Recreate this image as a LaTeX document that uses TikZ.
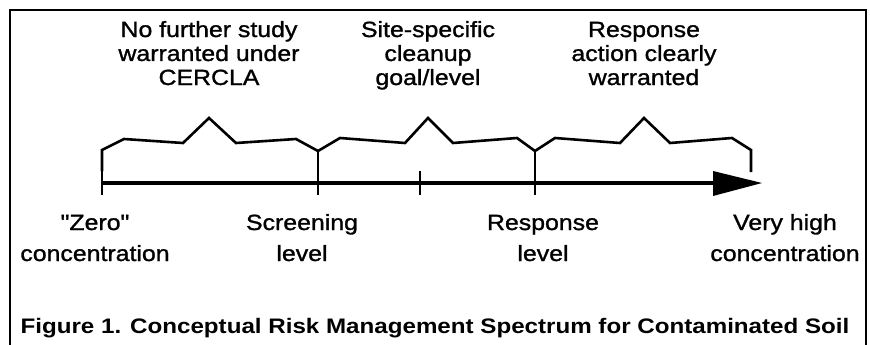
\documentclass[tikz,border=0pt]{standalone}
\usepackage{fontspec}
\setmainfont{Liberation Sans}[FakeStretch=1.15]
\newfontfamily\labfont{Liberation Sans}[FakeStretch=1.13,FakeBold=1.2]
\begin{document}
\begin{tikzpicture}[x=1pt,y=-1pt,
  lab/.style={font=\labfont\fontsize{22}{24}\selectfont, align=center, anchor=base, inner sep=0},
  blab/.style={font=\labfont\fontsize{22}{31}\selectfont, align=center, anchor=base, inner sep=0},
  captext/.style={font=\bfseries\fontsize{21}{24}\selectfont, anchor=base, inner sep=0},
  brace/.style={line width=2.6pt, line join=miter},
  tickline/.style={line width=2.8pt}]
\useasboundingbox (0,0) rectangle (870,345);
\draw[line width=2.6pt] (10,350) -- (10,10) -- (866,10) -- (866,350);
% axis
\coordinate (a0) at (102,183);
\coordinate (a1) at (318,183);
\coordinate (am) at (420,183);
\coordinate (a2) at (535,183);
\coordinate (aend) at (762,183);
\draw[line width=3.8pt] (a0) -- (714,183);
\fill (713,171) -- (aend) -- (713,196) -- cycle;
\draw[tickline] (102,171) -- (102,195);
\draw[tickline] (318,150) -- (318,195);
\draw[tickline] (420,171) -- (420,195);
\draw[tickline] (535,150) -- (535,195);
% braces
\draw[brace] (102,171) -- (102,150) -- (124,139) -- (183,143) -- (209,118) -- (236,143) -- (296,139) -- (318,151)
  -- (340,138) -- (405,143) -- (428,118) -- (453,143) -- (517,138) -- (535,151)
  -- (555,138) -- (620,143) -- (644,118) -- (670,143) -- (732,138) -- (751,150) -- (751,172);
% labels
\node[lab] (t1) at (209,85) {No further study\\warranted under\\CERCLA};
\node[lab] (t2) at (428,85) {Site-specific\\cleanup\\goal/level};
\node[lab] (t3) at (644,85) {Response\\action clearly\\warranted};
\node[blab] (b0) at (95,261) {\char34 Zero\char34\\concentration};
\node[blab] (b1) at (302,261) {Screening\\level};
\node[blab] (b2) at (543,261) {Response\\level};
\node[blab] (b3) at (785,261) {Very high\\concentration};
\node[captext] (c) at (435,333) {Figure 1. Conceptual Risk Management Spectrum for Contaminated Soil};
\end{tikzpicture}
\end{document}
